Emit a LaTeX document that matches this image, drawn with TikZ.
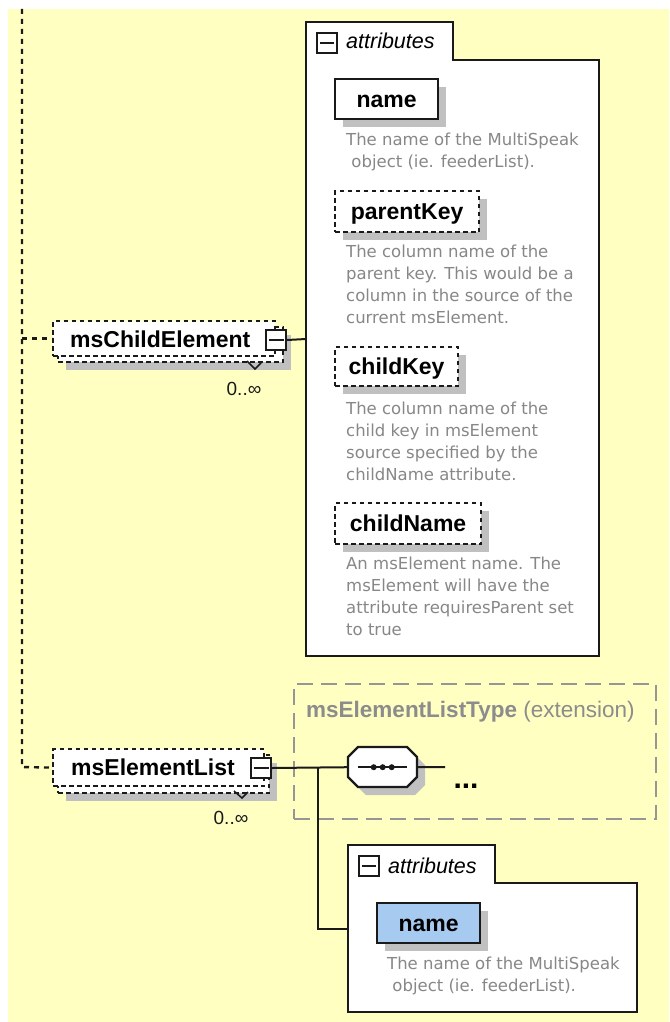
\documentclass[tikz,border=0pt]{standalone}
\usepackage{fontspec}
\setmainfont{Liberation Sans}
\newfontfamily\descfont{DejaVu Sans}
\usetikzlibrary{shadows}
\definecolor{bgc}{RGB}{255,255,194}
\definecolor{linec}{RGB}{26,26,26}
\definecolor{shadowc}{RGB}{192,192,192}
\definecolor{descc}{RGB}{135,135,135}
\definecolor{extc}{RGB}{150,150,150}
\definecolor{extt}{RGB}{140,140,140}
\definecolor{bluec}{RGB}{166,202,240}
\begin{document}
\begin{tikzpicture}[x=1pt,y=-1pt,
  lbl/.style={font=\fontsize{23}{27}\selectfont\bfseries, text=black, text height=16pt, text depth=0pt},
  elbox/.style={draw=linec, line width=2.2pt, fill=white, anchor=north west, inner sep=0pt},
  optl/.style={dash pattern=on 4.5pt off 3.5pt},
  shad/.style={drop shadow={shadow xshift=8pt, shadow yshift=-8pt, fill=shadowc, opacity=1}},
  desc/.style={font=\descfont\fontsize{16.5}{22}\selectfont, text=descc, align=left, anchor=north west, inner sep=0pt, execute at begin node=\strut},
  conn/.style={draw=linec, line width=2pt},
  dconn/.style={draw=linec, line width=2.4pt, dash pattern=on 5pt off 5pt},
  tabbox/.style={draw=linec, line width=2.4pt, fill=white},
  minusbox/.style={draw=linec, line width=2pt, fill=white, minimum size=20pt, inner sep=0pt, anchor=north west},
  tabtitle/.style={font=\fontsize{21.5}{26}\selectfont\itshape, text=black, anchor=base west, inner sep=0pt},
  occ/.style={font=\fontsize{19}{23}\selectfont, text=linec, inner sep=0pt, anchor=base},
]
\useasboundingbox (0,0) rectangle (669,1022);
\fill[bgc] (8,9) rectangle (669,1022);

% ---------- attributes box 1
\filldraw[tabbox] (306,22) -- (453,22) -- (453,60) -- (599,60) -- (599,656) -- (306,656) -- cycle;
\coordinate (a1w) at (306,339);
\node[minusbox] (a1m) at (316,32) {};
\draw[linec, line width=2pt] ([xshift=4pt]a1m.west) -- ([xshift=-4pt]a1m.east);
\node[tabtitle] (a1t) at (346,49) {attributes};

\node[elbox, shad, lbl, minimum width=103pt, minimum height=40pt] (n1) at (334,78) {name};
\node[desc] (n1d) at (346,132.6) {The name of the MultiSpeak\\\ object (ie. feederList).};

\node[elbox, optl, shad, lbl, minimum width=144pt, minimum height=41pt] (pk) at (334,190) {parentKey};
\node[desc] (pkd) at (346,244.6) {The column name of the\\parent key. This would be a\\column in the source of the\\current msElement.};

\node[elbox, optl, shad, lbl, minimum width=123pt, minimum height=39pt] (ck) at (334,346) {childKey};
\node[desc] (ckd) at (346,401.6) {The column name of the\\child key in msElement\\source specified by the\\childName attribute.};

\node[elbox, optl, shad, lbl, minimum width=146pt, minimum height=41pt] (cn) at (334,502) {childName};
\node[desc] (cnd) at (346,556.6) {An msElement name. The\\msElement will have the\\attribute requiresParent set\\to true};

% ---------- extension box
\node[draw=extc, line width=2pt, dash pattern=on 16pt off 8pt, minimum width=362pt, minimum height=135pt, anchor=north west, inner sep=0pt] (ext) at (293,683) {};
\node[anchor=base west, inner sep=0pt, font=\fontsize{22.5}{27}\selectfont, text=extt] (extt) at (306,717) {\textbf{msElementListType} (extension)};

% ---------- attributes box 2
\filldraw[tabbox] (348,845) -- (495,845) -- (495,883) -- (637,883) -- (637,1012) -- (348,1012) -- cycle;
\coordinate (a2w) at (348,929);
\node[minusbox] (a2m) at (358,855) {};
\draw[linec, line width=2pt] ([xshift=4pt]a2m.west) -- ([xshift=-4pt]a2m.east);
\node[tabtitle] (a2t) at (388,873) {attributes};
\node[elbox, shad, lbl, fill=bluec, minimum width=103pt, minimum height=40pt] (n2) at (376,902) {name};
\node[desc] (n2d) at (387,956.6) {The name of the MultiSpeak\\\ object (ie. feederList).};

% ---------- sequence compositor
\node[inner sep=0pt, minimum width=69pt, minimum height=40pt, anchor=north west] (seq) at (348,747) {};
\fill[shadowc, shift={(8,8)}] (358,747) -- (407,747) -- (417,757) -- (417,777) -- (407,787) -- (358,787) -- (348,777) -- (348,757) -- cycle;
\filldraw[draw=linec, fill=white, line width=2.2pt] (358,747) -- (407,747) -- (417,757) -- (417,777) -- (407,787) -- (358,787) -- (348,777) -- (348,757) -- cycle;
\draw[linec, line width=2pt] ([xshift=10pt]seq.west) -- ([xshift=-10pt]seq.east);
\foreach \dx in {-9,0,9} \fill[linec] ([xshift=\dx pt]seq.center) circle (3pt);
\coordinate (seqout) at (445,767);
\draw[conn] (seq.east) -- (seqout);
\node[font=\fontsize{30}{34}\selectfont\bfseries, inner sep=0pt] (dots) at (466,786) {...};

% ---------- msChildElement
\node[elbox, optl, shad, minimum width=225pt, minimum height=35pt] (mceb) at (57,326) {};
\node[elbox, optl, minimum width=222pt, minimum height=35pt] (mce) at (52,320) {};
\node[lbl, anchor=west, inner sep=0pt] (mcet) at (70,339) {msChildElement};
\draw[linec, line width=1.5pt] (247,361) -- (255,369) -- (261,363);
\node[minusbox] (mcei) at (265,329) {};
\draw[linec, line width=2pt] ([xshift=3.5pt]mcei.west) -- ([xshift=-3.5pt]mcei.east);
\node[occ] (mceo) at (244,395) {0..∞};
\draw[conn] (mcei.east) -- (a1w);

% ---------- msElementList
\node[elbox, optl, shad, minimum width=211pt, minimum height=38pt] (melb) at (57,754) {};
\node[elbox, optl, minimum width=211pt, minimum height=37pt] (mel) at (52,748) {};
\node[lbl, anchor=west, inner sep=0pt] (melt) at (71,767) {msElementList};
\draw[linec, line width=1.5pt] (234,791) -- (242,798) -- (248,792);
\node[minusbox] (meli) at (250,757) {};
\draw[linec, line width=2pt] ([xshift=3.5pt]meli.west) -- ([xshift=-3.5pt]meli.east);
\node[occ] (melo) at (231,824) {0..∞};
\coordinate (jn) at (318,767);
\draw[conn] (meli.east) -- (seq.west);
\draw[conn] (jn) |- (a2w);

% ---------- left dashed connectors
\coordinate (vtop) at (22,9);
\coordinate (vbot) at (22,767);
\draw[dconn] (vtop) -- (vbot) -- (mel.west);
\draw[dconn] (vtop |- mce.west) -- (mce.west);
\end{tikzpicture}
\end{document}
